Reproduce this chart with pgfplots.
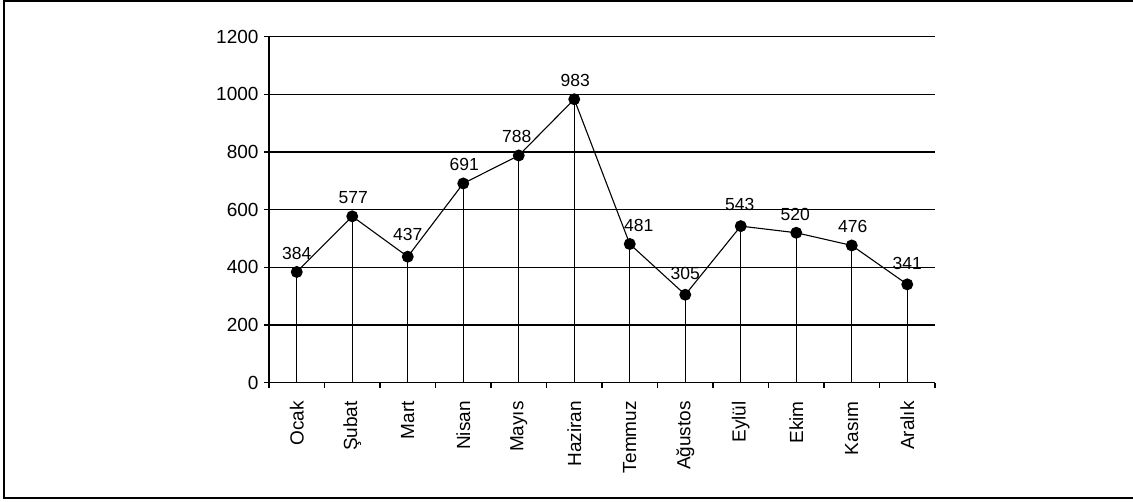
\documentclass[border=0pt]{standalone}
\usepackage{fontspec}
\setmainfont{Liberation Sans}
\usepackage{pgfplots}
\usepackage{pgfplotstable}
\pgfplotsset{compat=1.18}
\newcommand\tlfont{\fontsize{19}{21}\selectfont}
\newcommand\dlfont{\fontsize{17.5}{20}\selectfont}
\pgfplotstableread{
x y dx dy
0 384 0 12
1 577 1 12
2 437 0 15
3 691 1 12
4 788 -2 12
5 983 1 12
6 481 9 12
7 305 0 15
8 543 -1 15
9 520 -1 12
10 476 1 12
11 341 0 14
}\datatable
\begin{document}
\begin{tikzpicture}[x=1pt,y=1pt]
\useasboundingbox (0,0) rectangle (1133,502);
\draw[line width=2pt] (1133,501) -- (4,501) -- (4,4) -- (1133,4);
\begin{axis}[
  at={(269pt,119.3pt)}, anchor=south west,
  scale only axis, width=666pt, height=346pt,
  xmin=-0.5, xmax=11.5, ymin=0, ymax=1200,
  axis x line*=bottom, axis y line*=left,
  axis line style={line width=1.3pt, -},
  xtick={0,...,11},
  xticklabels={Ocak,Şubat,Mart,Nisan,Mayıs,Haziran,Temmuz,Ağustos,Eylül,Ekim,Kasım,Aralık},
  major x tick style={draw=none},
  minor xtick={-0.5,0.5,...,11.5},
  minor tick length=5pt,
  minor tick style={line width=1.3pt, black},
  ytick={0,200,...,1200},
  major tick length=5pt,
  tick align=outside,
  major tick style={line width=1.3pt, black},
  ymajorgrids,
  grid style={line width=1.3pt, black},
  tick label style={font=\tlfont},
  /pgf/number format/assume math mode=true,
  /pgf/number format/1000 sep={},
  xticklabel style={rotate=90, anchor=east, xshift=-10pt},
  yticklabel style={xshift=-2pt},
  clip=false,
]
\addplot[ycomb, line width=1.3pt, black] table[x=x, y=y] {\datatable};
\addplot[black, line width=1.1pt, mark=*, mark size=5.4pt,
  visualization depends on={\thisrow{dx} \as \dx},
  visualization depends on={\thisrow{dy} \as \dy},
  nodes near coords,
  every node near coord/.append style={font=\dlfont, inner sep=0pt, anchor=south, xshift=\dx pt, yshift=\dy pt},
] table[x=x, y=y] {\datatable};
\end{axis}
\end{tikzpicture}
\end{document}
